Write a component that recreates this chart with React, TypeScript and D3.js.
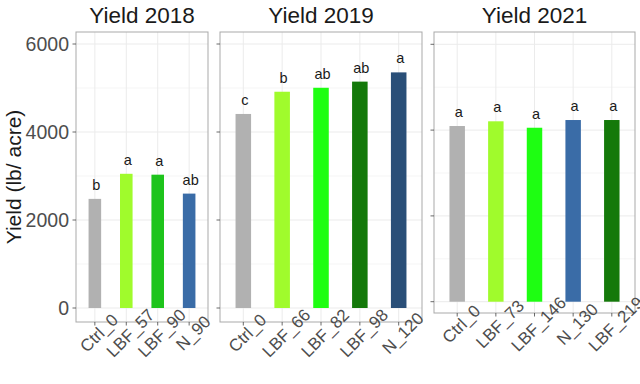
import * as d3 from "d3";

const years = ["2018", "2019", "2021"];

const cats2018 = ["Ctrl_0", "LBF_57", "LBF_90", "N_90"];
const yield2018 = [2480, 3050, 3030, 2600];
const letters2018 = ["b", "a", "a", "ab"];

const cats2019 = ["Ctrl_0", "LBF_66", "LBF_82", "LBF_98", "N_120"];
const yield2019 = [4410, 4915, 5005, 5145, 5355];
const letters2019 = ["c", "b", "ab", "ab", "a"];

const cats2021 = ["Ctrl_0", "LBF_73", "LBF_146", "N_130", "LBF_219"];
const yield2021 = [4095, 4205, 4055, 4235, 4235];
const letters2021 = ["a", "a", "a", "a", "a"];

const yTicks = [0, 2000, 4000, 6000];
const yMinor = [1000, 3000, 5000];

const colorOf = {
  Ctrl_0: "#b1b1b1",
  LBF_57: "#a0fb2c",
  LBF_66: "#a0fb2c",
  LBF_73: "#a0fb2c",
  LBF_90: "#1ec41c",
  LBF_82: "#1efe12",
  LBF_146: "#1efe12",
  LBF_98: "#14790a",
  LBF_219: "#14790a",
  N_90: "#3a6ca7",
  N_130: "#3a6ca7",
  N_120: "#2a4f78",
};

// panel boxes (the third one sits a bit lower)
const panels = [
  { cats: cats2018, vals: yield2018, letters: letters2018, x0: 76, x1: 208, top: 32, bottom: 322, y0: 308, y6: 44 },
  { cats: cats2019, vals: yield2019, letters: letters2019, x0: 220, x1: 422, top: 32, bottom: 322, y0: 308, y6: 44 },
  { cats: cats2021, vals: yield2021, letters: letters2021, x0: 434, x1: 635, top: 32, bottom: 313, y0: 301.7, y6: 44.3 },
];

const font = "'Liberation Sans', Arial, sans-serif";

const Panel = ({ p, i }) => {
  const n = p.cats.length;
  const x = d3.scaleLinear().domain([-0.6, n - 1 + 0.6]).range([p.x0, p.x1]);
  const y = d3.scaleLinear().domain([0, 6000]).range([p.y0, p.y6]);
  const step = x(1) - x(0);
  const bw = step * 0.4;

  return (
    <g>
      <rect x={p.x0} y={p.top} width={p.x1 - p.x0} height={p.bottom - p.top} fill="white" />
      {yMinor.map((t) => (
        <line key={"m" + t} x1={p.x0} x2={p.x1} y1={y(t)} y2={y(t)} stroke="#f3f3f3" strokeWidth={0.8} />
      ))}
      {yTicks.map((t) => (
        <line key={"g" + t} x1={p.x0} x2={p.x1} y1={y(t)} y2={y(t)} stroke="#ebebeb" strokeWidth={1} />
      ))}
      {p.cats.map((c, j) => (
        <line key={"v" + c} x1={x(j)} x2={x(j)} y1={p.top} y2={p.bottom} stroke="#ebebeb" strokeWidth={1} />
      ))}
      {p.cats.map((c, j) => (
        <rect key={"b" + c} x={x(j) - bw / 2} y={y(p.vals[j])} width={bw} height={y(0) - y(p.vals[j])} fill={colorOf[c]} />
      ))}
      {p.cats.map((c, j) => (
        <text key={"l" + c} x={x(j) + 1.5} y={y(p.vals[j]) - 9} textAnchor="middle" fontSize={14.5} fill="#1a1a1a" fontFamily={font}>
          {p.letters[j]}
        </text>
      ))}
      <rect x={p.x0} y={p.top} width={p.x1 - p.x0} height={p.bottom - p.top} fill="none" stroke="#a9a9a9" strokeWidth={1} />
      {yTicks.map((t) => (
        <line key={"t" + t} x1={p.x0 - 3.5} x2={p.x0} y1={y(t)} y2={y(t)} stroke="#444" strokeWidth={0.8} />
      ))}
      {i === 0 &&
        yTicks.map((t) => (
          <text key={"yl" + t} x={p.x0 - 7} y={y(t)} dy="0.36em" textAnchor="end" fontSize={19.5} fill="#4d4d4d" fontFamily={font}>
            {t}
          </text>
        ))}
      {p.cats.map((c, j) => (
        <line key={"xt" + c} x1={x(j)} x2={x(j)} y1={p.bottom} y2={p.bottom + 3.5} stroke="#444" strokeWidth={0.8} />
      ))}
      {p.cats.map((c, j) => (
        <text
          key={"xl" + c}
          transform={`translate(${x(j) + 4},${p.bottom + 11}) rotate(-45)`}
          textAnchor="middle"
          dy="0.35em"
          fontSize={17}
          fill="#4d4d4d"
          fontFamily={font}
        >
          {c}
        </text>
      ))}
      <text x={(p.x0 + p.x1) / 2} y={23} textAnchor="middle" fontSize={22.5} fill="#1a1a1a" fontFamily={font}>
        {"Yield " + years[i]}
      </text>
    </g>
  );
};

export default function App() {
  return (
    <svg width={640} height={384} style={{ position: "absolute", left: 0, top: 0, background: "white" }}>
      <rect width={640} height={384} fill="white" />
      {panels.map((p, i) => (
        <Panel key={i} p={p} i={i} />
      ))}
      <text transform="translate(21,177) rotate(-90)" textAnchor="middle" fontSize={21} fill="#1a1a1a" fontFamily={font}>
        Yield (lb/ acre)
      </text>
    </svg>
  );
}
